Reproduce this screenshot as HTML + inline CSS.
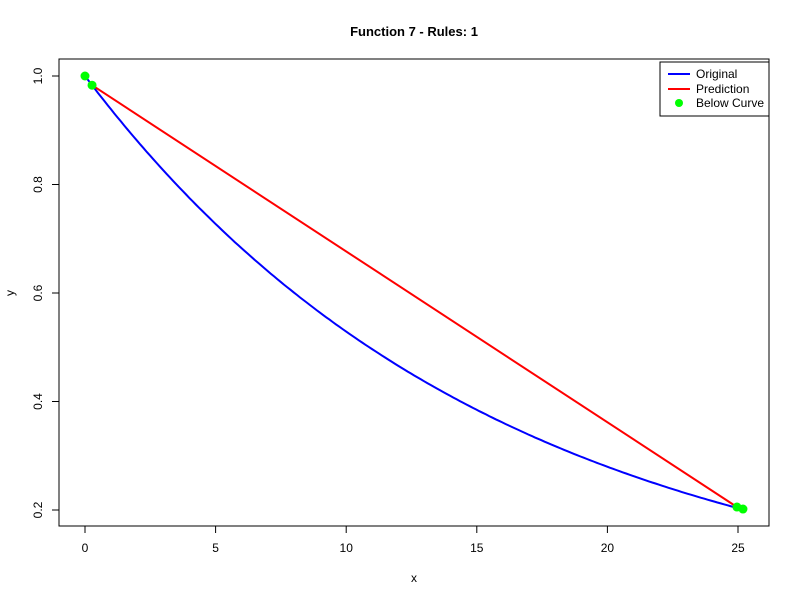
<!DOCTYPE html>
<html><head><meta charset="utf-8"><style>
body{margin:0;background:#fff}
svg{font-family:"Liberation Sans",Arial,sans-serif}
</style></head><body>
<svg id="c" width="800" height="600" xmlns="http://www.w3.org/2000/svg">
<rect width="800" height="600" fill="#fff"/>
<text x="414" y="36" text-anchor="middle" font-size="13" font-weight="bold">Function 7 - Rules: 1</text>
<rect x="59" y="59" width="710" height="467" fill="none" stroke="#000" stroke-width="1"/>
<g id="axes"></g>
<g id="series"></g>
<text x="414" y="582" text-anchor="middle" font-size="12">x</text>
<text x="14" y="293" text-anchor="middle" font-size="12" transform="rotate(-90 14 293)">y</text>
<g>
<rect x="660" y="62" width="109" height="54" fill="#fff" stroke="#000"/>
<line x1="668" y1="74" x2="690" y2="74" stroke="#0000ff" stroke-width="2"/>
<text x="696" y="78" font-size="12">Original</text>
<line x1="668" y1="89" x2="690" y2="89" stroke="#ff0000" stroke-width="2"/>
<text x="696" y="93" font-size="12">Prediction</text>
<circle cx="679" cy="103" r="4" fill="#00ff00"/>
<text x="696" y="107" font-size="12">Below Curve</text>
</g>
</svg>
<script>
const xTicks=[0,5,10,15,20,25];
const yTicks=[0.2,0.4,0.6,0.8,1.0];
const curveK=[0.0637];
const curveRange=[0,24.96];
const predX=[0.27,24.96];
const predY=[0.983,0.2055];
const ptsX=[0,0.27,24.96,25.19];
const ptsY=[1.0,0.983,0.2055,0.2018];
const NS="http://www.w3.org/2000/svg";
function sx(v){return 85+v*26.12;}
function sy(v){return 76+(1-v)*542.5;}
function mk(t,a,p){const e=document.createElementNS(NS,t);for(const k in a)e.setAttribute(k,a[k]);p.appendChild(e);return e;}
const ax=document.getElementById('axes'),se=document.getElementById('series');
mk('line',{x1:sx(0),x2:sx(25),y1:526,y2:526,stroke:'#000'},ax);
xTicks.forEach(t=>{mk('line',{x1:sx(t),x2:sx(t),y1:526,y2:533,stroke:'#000'},ax);
const e=mk('text',{x:sx(t),y:552,'text-anchor':'middle','font-size':12},ax);e.textContent=t;

});
mk('line',{x1:59,x2:59,y1:sy(0.2),y2:sy(1),stroke:'#000'},ax);
yTicks.forEach(t=>{mk('line',{x1:52,x2:59,y1:sy(t),y2:sy(t),stroke:'#000'},ax);
const e=mk('text',{x:42,y:sy(t),'text-anchor':'middle','font-size':12,transform:`rotate(-90 42 ${sy(t)})`},ax);e.textContent=t.toFixed(1);

});
let d='';for(let i=0;i<=200;i++){const x=curveRange[0]+(curveRange[1]-curveRange[0])*i/200;d+=(i?'L':'M')+sx(x).toFixed(1)+','+sy(Math.exp(-curveK[0]*x)).toFixed(1);}
const c=mk('path',{d:d,fill:'none',stroke:'#0000ff','stroke-width':2},se);


const p=mk('polyline',{points:predX.map((x,i)=>sx(x)+','+sy(predY[i])).join(' '),fill:'none',stroke:'#ff0000','stroke-width':2},se);


ptsX.forEach((x,i)=>{const e=mk('circle',{cx:sx(x),cy:sy(ptsY[i]),r:4.5,fill:'#00ff00'},se);

});
</script>
</body></html>
